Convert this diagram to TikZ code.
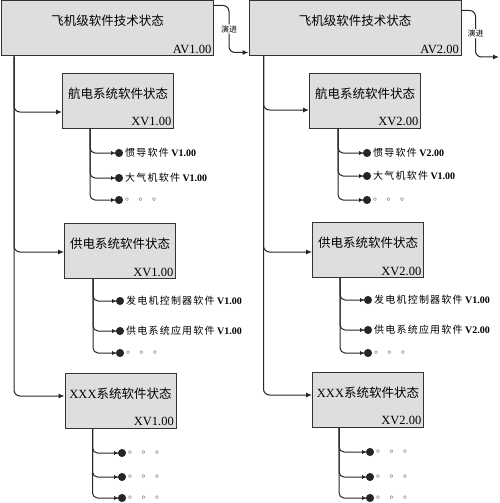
\documentclass[tikz,border=0pt]{standalone}
\usepackage{fontspec}
\setmainfont{Liberation Serif}
\newfontfamily\cjk{Noto Sans CJK SC}
\newfontfamily\cjkleaf[LetterSpace=12]{Noto Sans CJK SC}
\usetikzlibrary{arrows.meta,positioning,calc}

\tikzset{
  statebox/.style={draw=black!80, fill=gray!26, line width=1pt, inner sep=0pt,
    font=\cjk\fontsize{12.5}{12.5}\selectfont, text height=8pt, text depth=13pt},
  topbox/.style={statebox, minimum width=212pt, minimum height=55pt},
  subbox/.style={statebox, minimum width=111pt, minimum height=55pt},
  ver/.style={anchor=south east, inner sep=2.5pt, font=\rmfamily\fontsize{12.5}{12.5}\selectfont},
  arr/.style={draw=black!85, line width=1pt, rounded corners=6pt, -{Latex[length=6pt,width=5pt]}},
  leafarr/.style={draw=black!85, line width=1pt, rounded corners=5pt,
    -{Latex[length=4pt,width=4.5pt]Circle[length=8pt]}},
  leaf/.style={anchor=west, inner sep=2pt, font=\rmfamily\bfseries\fontsize{10}{10}\selectfont},
  dots/.style={leaf, text=black!65},
  evo/.style={font=\cjk\fontsize{8}{8}\selectfont, fill=white, inner sep=1pt},
}
\newcommand{\zh}[1]{{\cjkleaf\mdseries #1}}

\begin{document}
\begin{tikzpicture}[x=1pt,y=-1pt]
  \useasboundingbox (0,0) rectangle (499,503);
  % aircraft level states
  \node[topbox, label={[ver]south east:AV1.00}] (topA) at (107.5,28.5) {飞机级软件技术状态};
  \node[topbox, label={[ver]south east:AV2.00}] (topB) at (355,28.5) {飞机级软件技术状态};
  \coordinate (evoEnd) at (499,57);
  \draw[arr] ([yshift=-5pt]topA.north east) -- ++(15,0) |- node[evo, pos=0.25] {演进} ([yshift=4pt]topB.south west);
  \draw[arr] ([yshift=-10pt]topB.north east) -- ++(14,0) |- node[evo, pos=0.25] {演进} (evoEnd);

  % system level states, first column
  \node[subbox, label={[ver]south east:XV1.00}] (subA1) at (118,100.5) {航电系统软件状态};
  \node[subbox, label={[ver]south east:XV1.00}] (subA2) at (120,251) {供电系统软件状态};
  \node[subbox, label={[ver]south east:XV1.00}] (subA3) at (120.5,400.5) {{\rmfamily XXX}系统软件状态};
  \coordinate (trA) at ($(topA.south west)+(13,0)$);
  \draw[arr] (trA) |- ([yshift=-11.5pt]subA1.west);
  \draw[arr] (trA) |- ([yshift=-1pt]subA2.west);
  \draw[arr] (trA) |- ([yshift=4.5pt]subA3.west);

  % system level states, second column
  \node[subbox, label={[ver]south east:XV2.00}] (subB1) at (365,100.5) {航电系统软件状态};
  \node[subbox, label={[ver]south east:XV2.00}] (subB2) at (368,250) {供电系统软件状态};
  \node[subbox, label={[ver]south east:XV2.00}] (subB3) at (368,399.5) {{\rmfamily XXX}系统软件状态};
  \coordinate (trB) at ($(topB.south west)+(15,0)$);
  \draw[arr] (trB) |- ([yshift=-9.5pt]subB1.west);
  \draw[arr] (trB) |- ([yshift=-2pt]subB2.west);
  \draw[arr] (trB) |- ([yshift=4.5pt]subB3.west);

  % software items, first column
  \coordinate (brA1) at ($(subA1.south west)+(28,0)$);
  \node[leaf] (la11) at (123,153) {\zh{惯导软件} V1.00};
  \node[leaf] (la12) at (123,178) {\zh{大气机软件} V1.00};
  \node[dots] (la13) at (123,200) {\zh{。 。 。}};
  \draw[leafarr] (brA1) |- (la11.west);
  \draw[leafarr] (brA1) |- (la12.west);
  \draw[leafarr] (brA1) |- (la13.west);

  \coordinate (brA2) at ($(subA2.south west)+(29,0)$);
  \node[leaf] (la21) at (124,301) {\zh{发电机控制器软件} V1.00};
  \node[leaf] (la22) at (124,331) {\zh{供电系统应用软件} V1.00};
  \node[dots] (la23) at (124,353) {\zh{。 。 。}};
  \draw[leafarr] (brA2) |- (la21.west);
  \draw[leafarr] (brA2) |- (la22.west);
  \draw[leafarr] (brA2) |- (la23.west);

  \coordinate (brA3) at ($(subA3.south west)+(28,0)$);
  \node[dots] (la31) at (126,453) {\zh{。 。 。}};
  \node[dots] (la32) at (126,477) {\zh{。 。 。}};
  \node[dots] (la33) at (126,498) {\zh{。 。 。}};
  \draw[leafarr] (brA3) |- (la31.west);
  \draw[leafarr] (brA3) |- (la32.west);
  \draw[leafarr] (brA3) |- (la33.west);

  % software items, second column
  \coordinate (brB1) at ($(subB1.south west)+(29,0)$);
  \node[leaf] (lb11) at (371,153) {\zh{惯导软件} V2.00};
  \node[leaf] (lb12) at (371,176) {\zh{大气机软件} V1.00};
  \node[dots] (lb13) at (371,200) {\zh{。 。 。}};
  \draw[leafarr] (brB1) |- (lb11.west);
  \draw[leafarr] (brB1) |- (lb12.west);
  \draw[leafarr] (brB1) |- (lb13.west);

  \coordinate (brB2) at ($(subB2.south west)+(28,0)$);
  \node[leaf] (lb21) at (372,300) {\zh{发电机控制器软件} V1.00};
  \node[leaf] (lb22) at (372,330) {\zh{供电系统应用软件} V2.00};
  \node[dots] (lb23) at (372,353) {\zh{。 。 。}};
  \draw[leafarr] (brB2) |- (lb21.west);
  \draw[leafarr] (brB2) |- (lb22.west);
  \draw[leafarr] (brB2) |- (lb23.west);

  \coordinate (brB3) at ($(subB3.south west)+(27,0)$);
  \node[dots] (lb31) at (374,452) {\zh{。 。 。}};
  \node[dots] (lb32) at (374,477) {\zh{。 。 。}};
  \node[dots] (lb33) at (374,498) {\zh{。 。 。}};
  \draw[leafarr] (brB3) |- (lb31.west);
  \draw[leafarr] (brB3) |- (lb32.west);
  \draw[leafarr] (brB3) |- (lb33.west);
\end{tikzpicture}
\end{document}
